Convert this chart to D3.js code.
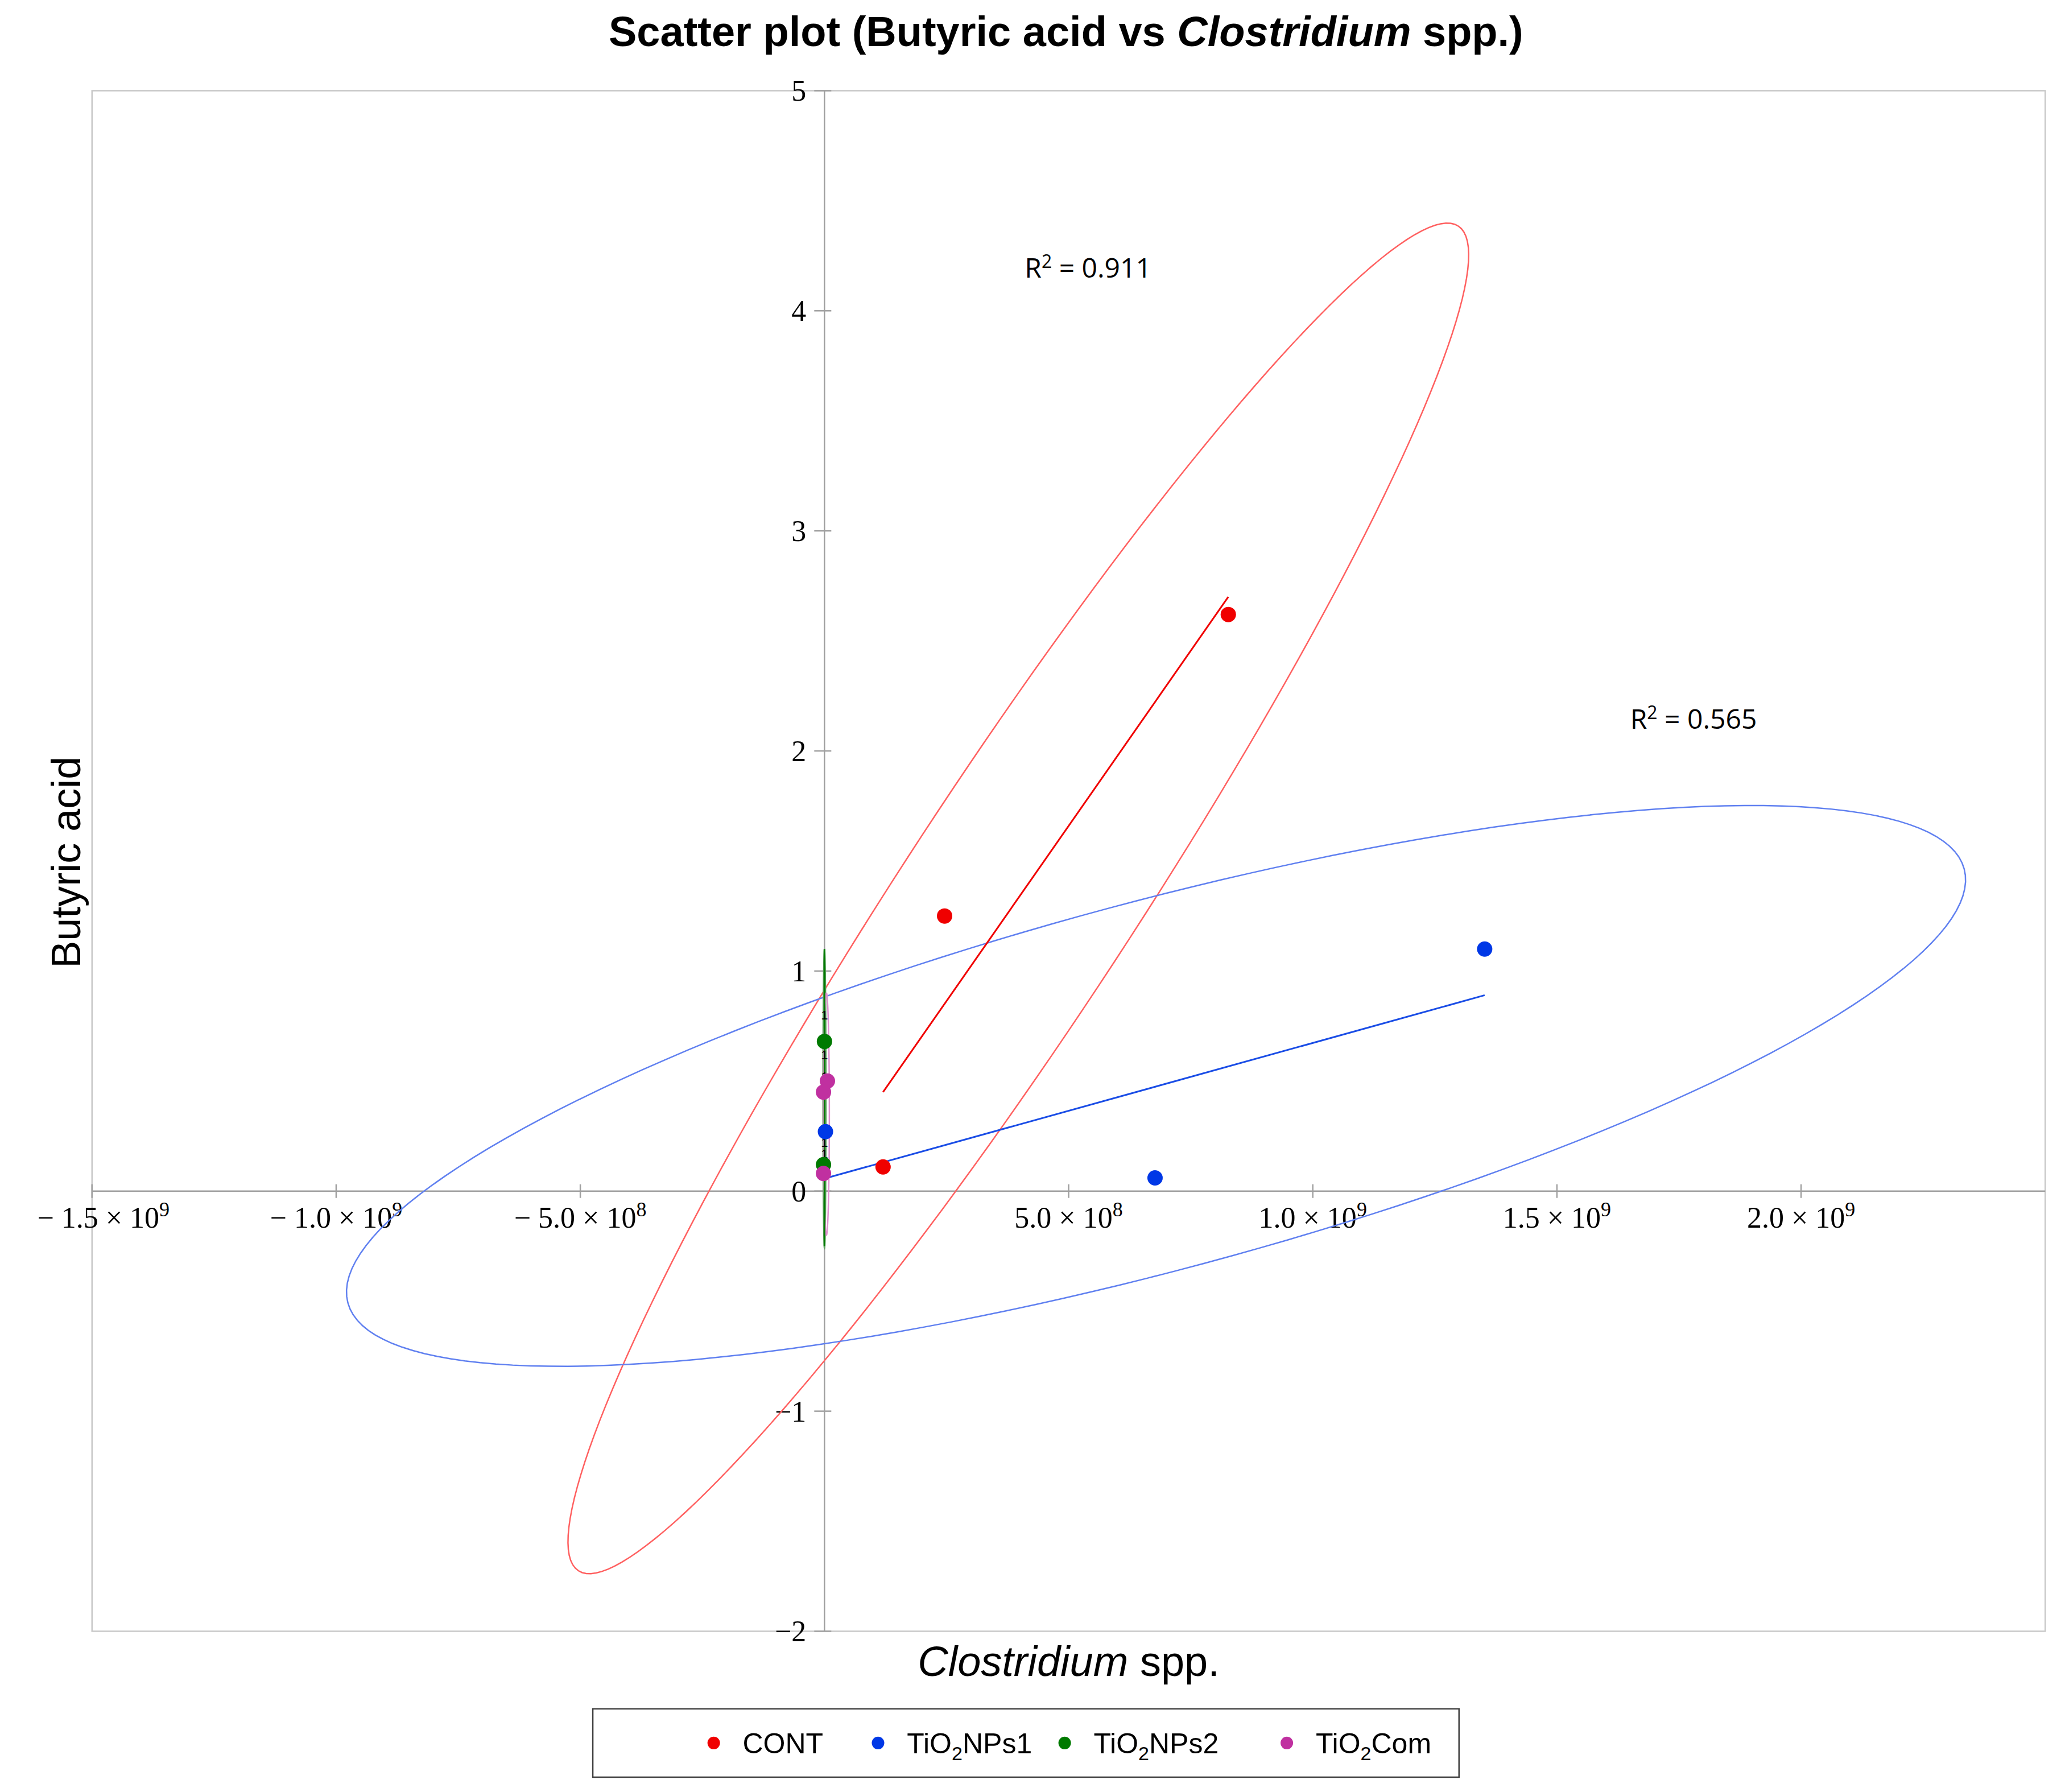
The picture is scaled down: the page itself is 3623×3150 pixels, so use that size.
<!DOCTYPE html>
<html><head><meta charset="utf-8">
<script src="https://cdn.jsdelivr.net/npm/d3@7"></script>
<style>body{margin:0;background:#fff}</style>
</head><body>
<svg id="chart" width="3623" height="3150"></svg>
<script>
var k = 2.3106;
var seriesNames = ['CONT', 'TiO2NPs1', 'TiO2NPs2', 'TiO2Com'];
var seriesColors = ['#f00000', '#0038e6', '#007a00', '#c030a0'];
var contX = [0.246e9, 0.827e9, 0.12e9], contY = [1.25, 2.62, 0.11];
var np1X = [1.352e9, 0.677e9, 0.002e9], np1Y = [1.10, 0.06, 0.27];
var np2X = [0, -0.002e9], np2Y = [0.68, 0.12];
var comX = [0.006e9, -0.002e9, -0.002e9], comY = [0.50, 0.45, 0.08];
var fitLines = [
  {x: [0.12e9, 0.827e9], y: [0.45, 2.70], c: '#f00000'},
  {x: [0.005e9, 1.352e9], y: [0.06, 0.89], c: '#1a4de6'},
  {x: [0, 0], y: [1.1, -0.25], c: '#007a00'}
];
// ellipses: center, semi-axis A, semi-axis B (data units)
var ellipses = [
  {c: [0.397e9, 1.33], a: [0.901e9, 3.055], b: [0.197e9, -0.287], col: '#ff6060'},
  {c: [0.679e9, 0.478], a: [1.655e9, 0.986], b: [0.0976e9, -0.807], col: '#6080f0'},
  {c: [0, 0.42], a: [0, 0.68], b: [0.003e9, 0], col: '#60a060'},
  {c: [0.004e9, 0.35], a: [0, 0.55], b: [0.006e9, 0], col: '#e090d0'}
];
var r2Labels = [{x: 0.41e9, y: 4.15, t: '0.911'}, {x: 1.65e9, y: 2.1, t: '0.565'}];
var xTicks = [-1.5e9, -1.0e9, -5e8, 5e8, 1.0e9, 1.5e9, 2.0e9];
var xTickLabels = ['\u2212 1.5 \u00d7 10', '\u2212 1.0 \u00d7 10', '\u2212 5.0 \u00d7 10', '5.0 \u00d7 10', '1.0 \u00d7 10', '1.5 \u00d7 10', '2.0 \u00d7 10'];
var xTickExp = ['9', '9', '8', '8', '9', '9', '9'];
var yTicks = [-2, -1, 0, 1, 2, 3, 4, 5];

var svg = d3.select('#chart');
var L = 70 * k, R = 1556 * k, T = 69 * k, B = 1241 * k;
var x = d3.scaleLinear().domain([-1.5e9, 2.5e9]).range([L, R]);
var y = d3.scaleLinear().domain([-2, 5]).range([B, T]);

svg.append('rect').attr('x', L).attr('y', T).attr('width', R - L).attr('height', B - T)
  .attr('fill', 'none').attr('stroke', '#c8c8c8').attr('stroke-width', 2.5);

// axes through origin
var gray = '#a0a0a0';
svg.append('line').attr('x1', L).attr('x2', R).attr('y1', y(0)).attr('y2', y(0)).attr('stroke', gray).attr('stroke-width', 2.5);
svg.append('line').attr('x1', x(0)).attr('x2', x(0)).attr('y1', T).attr('y2', B).attr('stroke', gray).attr('stroke-width', 2.5);
xTicks.forEach(function(v, i){
  svg.append('line').attr('x1', x(v)).attr('x2', x(v)).attr('y1', y(0) - 12).attr('y2', y(0) + 12).attr('stroke', gray).attr('stroke-width', 2.5);
  var t = svg.append('text').attr('x', x(v) + (i === 0 ? 20 : 0)).attr('y', y(0) + 64).attr('text-anchor', 'middle')
    .attr('font-family', 'Liberation Serif').attr('font-size', 52).text(xTickLabels[i]);
  t.append('tspan').attr('dy', -20).attr('font-size', 36).text(xTickExp[i]);
});
yTicks.forEach(function(v){
  svg.append('line').attr('x1', x(0) - 18).attr('x2', x(0) + 12).attr('y1', y(v)).attr('y2', y(v)).attr('stroke', gray).attr('stroke-width', 2.5);
  svg.append('text').attr('x', x(0) - 32).attr('y', y(v) + 18).attr('text-anchor', 'end')
    .attr('font-family', 'Liberation Serif').attr('font-size', 52).text(v < 0 ? '\u2212' + (-v) : v);
});

// ellipses
ellipses.forEach(function(e){
  var pts = d3.range(0, 361, 2).map(function(d){
    var t = d * Math.PI / 180;
    return [x(e.c[0] + e.a[0] * Math.cos(t) + e.b[0] * Math.sin(t)), y(e.c[1] + e.a[1] * Math.cos(t) + e.b[1] * Math.sin(t))];
  });
  svg.append('path').attr('d', d3.line()(pts)).attr('fill', 'none').attr('stroke', e.col).attr('stroke-width', 2.5);
});

fitLines.forEach(function(f){
  svg.append('line').attr('x1', x(f.x[0])).attr('x2', x(f.x[1])).attr('y1', y(f.y[0])).attr('y2', y(f.y[1]))
    .attr('stroke', f.c).attr('stroke-width', 3);
});

// small "1" labels near the cluster
[0.78, 0.6, 0.5, 0.2, 0.15].forEach(function(v){
  svg.append('text').attr('x', x(0)).attr('y', y(v)).attr('text-anchor', 'middle').attr('font-family', 'Liberation Sans')
    .attr('font-size', 22).text('1');
});

var allX = [contX, np1X, np2X, comX], allY = [contY, np1Y, np2Y, comY];
allX.forEach(function(xs, s){
  xs.forEach(function(v, i){
    svg.append('circle').attr('cx', x(v)).attr('cy', y(allY[s][i])).attr('r', 13.5).attr('fill', seriesColors[s]);
  });
});

r2Labels.forEach(function(r){
  var t = svg.append('text').attr('x', x(r.x)).attr('y', y(r.y)).attr('font-family', 'Open Sans').attr('font-size', 48).text('R');
  t.append('tspan').attr('dy', -17).attr('font-size', 32).text('2');
  t.append('tspan').attr('dy', 17).text(' = ' + r.t);
});

// titles
var title = svg.append('text').attr('x', 811 * k).attr('y', 35 * k).attr('text-anchor', 'middle')
  .attr('font-family', 'Liberation Sans').attr('font-weight', 'bold').attr('font-size', 74);
title.append('tspan').text('Scatter plot (Butyric acid vs ');
title.append('tspan').attr('font-style', 'italic').text('Clostridium');
title.append('tspan').text(' spp.)');
var xt = svg.append('text').attr('x', 813 * k).attr('y', 1275 * k).attr('text-anchor', 'middle')
  .attr('font-family', 'Liberation Sans').attr('font-size', 74);
xt.append('tspan').attr('font-style', 'italic').text('Clostridium');
xt.append('tspan').text(' spp.');
svg.append('text').attr('transform', 'translate(' + (61 * k) + ',' + (656 * k) + ') rotate(-90)').attr('text-anchor', 'middle')
  .attr('font-family', 'Liberation Sans').attr('font-size', 72).text('Butyric acid');

// legend
svg.append('rect').attr('x', 451 * k).attr('y', 1300 * k).attr('width', 659 * k).attr('height', 52 * k)
  .attr('fill', 'none').attr('stroke', '#404040').attr('stroke-width', 2.5);
var legX = [543, 668, 810, 979];
seriesNames.forEach(function(n, i){
  var ly = 1326 * k;
  svg.append('circle').attr('cx', legX[i] * k).attr('cy', ly).attr('r', 11).attr('fill', seriesColors[i]);
  var t = svg.append('text').attr('x', (legX[i] + 22) * k).attr('y', ly + 18).attr('font-family', 'Liberation Sans').attr('font-size', 50);
  if (n === 'CONT') { t.text(n); return; }
  t.append('tspan').text('TiO');
  t.append('tspan').attr('dy', 12).attr('font-size', 34).text('2');
  t.append('tspan').attr('dy', -12).text(n.slice(4));
});
</script>
</body></html>
